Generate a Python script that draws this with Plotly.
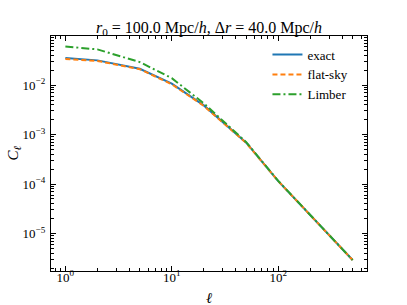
import plotly.graph_objects as go

ell = [1, 2, 5, 10, 20, 50, 100, 200, 500]
cl_exact = [0.0351, 0.0316, 0.0214, 0.0107, 0.00389, 6.85e-4, 1.15e-4, 2.33e-5, 2.92e-6]
cl_flat = [0.0338, 0.0308, 0.0210, 0.0104, 0.00380, 6.80e-4, 1.15e-4, 2.33e-5, 2.92e-6]
cl_limber = [0.0605, 0.0526, 0.0292, 0.0138, 0.00427, 7.05e-4, 1.16e-4, 2.33e-5, 2.92e-6]

x_major = [1, 10, 100]
x_labels = ["10<sup>0</sup>", "10<sup>1</sup>", "10<sup>2</sup>"]
y_major = [1e-5, 1e-4, 1e-3, 1e-2]
y_labels = ["10<sup>−5</sup>", "10<sup>−4</sup>", "10<sup>−3</sup>", "10<sup>−2</sup>"]

x_minor = [m * 10 ** e for e in range(-1, 3) for m in range(2, 10)]
y_minor = [m * 10 ** e for e in range(-6, -1) for m in range(2, 10)]

fig = go.Figure()
fig.add_trace(go.Scatter(x=ell, y=cl_exact, mode="lines", name="exact",
                         line=dict(color="#1f77b4", width=2)))
fig.add_trace(go.Scatter(x=ell, y=cl_flat, mode="lines", name="flat-sky",
                         line=dict(color="#ff7f0e", width=2, dash="5px,3px")))
fig.add_trace(go.Scatter(x=ell, y=cl_limber, mode="lines", name="Limber",
                         line=dict(color="#2ca02c", width=2, dash="8px,3px,2px,3px")))

font = "Liberation Serif, DejaVu Serif, serif"
axis_common = dict(
    type="log", showgrid=False, zeroline=False, showline=True, linecolor="black",
    linewidth=1.2, mirror="ticks", ticks="inside", ticklen=5, tickcolor="black",
    tickmode="array", automargin=False,
    tickfont=dict(family=font, size=13, color="black"),
)

fig.update_layout(
    width=407, height=305,
    margin=dict(l=51, r=40, t=36, b=34),
    paper_bgcolor="white", plot_bgcolor="white",
    font=dict(family=font, color="black"),
    title=dict(text="<i>r</i><sub>0</sub> = 100.0 Mpc/<i>h</i>, Δ<i>r</i> = 40.0 Mpc/<i>h</i>",
               x=0.5, xref="paper", xanchor="center", y=1.0, yref="paper", yanchor="bottom",
               pad=dict(b=3), font=dict(family=font, size=16, color="black")),
    xaxis=dict(axis_common, range=[-0.135, 2.834], tickvals=x_major, ticktext=x_labels,
               ticklabelstandoff=-6,
               minor=dict(tickmode="array", tickvals=x_minor, ticks="inside", ticklen=2.5,
                          tickcolor="black", showgrid=False)),
    yaxis=dict(axis_common, range=[-5.756, -1.008], tickvals=y_major, ticktext=y_labels,
               ticklabelstandoff=2,
               minor=dict(tickmode="array", tickvals=y_minor, ticks="inside", ticklen=2.5,
                          tickcolor="black", showgrid=False)),
    legend=dict(x=0.685, y=0.985, xanchor="left", yanchor="top", bgcolor="rgba(0,0,0,0)",
                font=dict(family=font, size=13, color="black"), tracegroupgap=0,
                itemwidth=30),
    showlegend=True,
)

fig.add_annotation(text="<i>ℓ</i>", xref="paper", yref="paper", x=0.5, y=0, yshift=-27,
                   xanchor="center", yanchor="middle", showarrow=False,
                   font=dict(family=font, size=15, color="black"))
fig.add_annotation(text="<i>C</i><sub><i>ℓ</i></sub>", xref="paper", yref="paper", x=0, y=0.5,
                   xshift=-38, xanchor="center", yanchor="middle", showarrow=False, textangle=-90,
                   font=dict(family=font, size=15, color="black"))

fig.write_html("out.html", config={"displayModeBar": False},
               post_script="document.body.style.margin='0';")
